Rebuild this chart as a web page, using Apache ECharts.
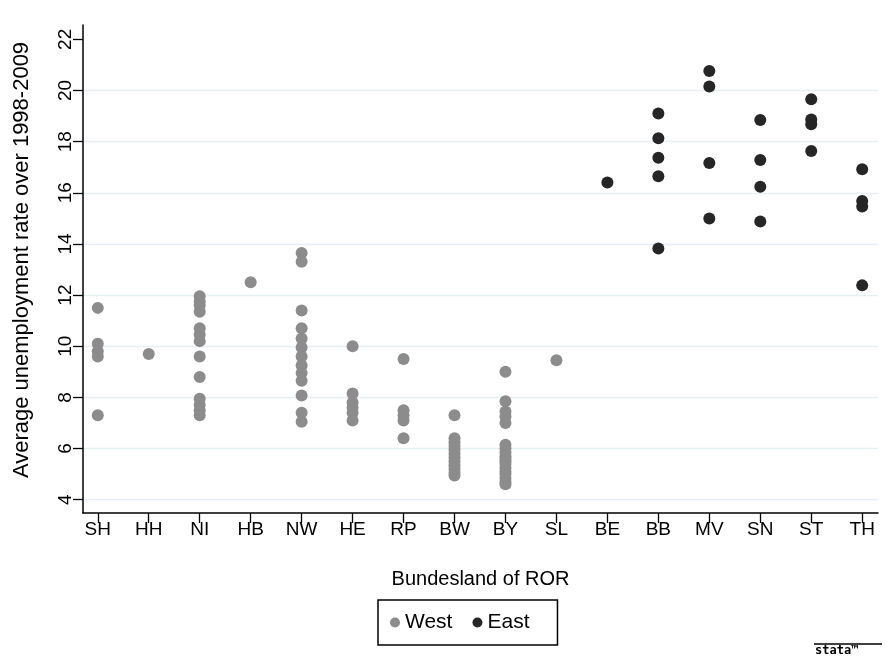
<!DOCTYPE html>
<html>
<head>
<meta charset="utf-8">
<script src="https://cdn.jsdelivr.net/npm/echarts@6/dist/echarts.min.js"></script>
<style>html,body{margin:0;padding:0;background:#fff}#c{width:890px;height:657px}</style>
</head>
<body>
<div id="c"></div>
<script>
const categories = ['SH','HH','NI','HB','NW','HE','RP','BW','BY','SL','BE','BB','MV','SN','ST','TH'];
const yTicks = [4,6,8,10,12,14,16,18,20,22];
// West states
const SH = [11.5, 10.1, 9.8, 9.6, 7.3];
const HH = [9.7];
const NI = [11.95, 11.75, 11.6, 11.35, 10.7, 10.45, 10.2, 9.6, 8.8, 7.95, 7.7, 7.5, 7.3];
const HB = [12.5];
const NW = [13.65, 13.3, 11.4, 10.7, 10.3, 9.95, 9.6, 9.25, 8.95, 8.65, 8.07, 7.4, 7.05];
const HE = [10.0, 8.15, 7.8, 7.6, 7.4, 7.1];
const RP = [9.5, 7.5, 7.3, 7.1, 6.4];
const BW = [7.3, 6.4, 6.25, 6.1, 5.95, 5.8, 5.65, 5.5, 5.35, 5.2, 5.05, 4.95];
const BY = [9.0, 7.85, 7.45, 7.25, 7.0, 6.15, 6.0, 5.85, 5.7, 5.6, 5.5, 5.4, 5.25, 5.1, 5.0, 4.85, 4.7, 4.6];
const SL = [9.45];
// East states
const BE = [16.4];
const BB = [19.1, 18.13, 17.37, 16.65, 13.82];
const MV = [20.76, 20.16, 17.16, 14.99];
const SN = [18.85, 17.28, 16.24, 14.88];
const ST = [19.66, 18.87, 18.68, 17.63];
const TH = [16.92, 15.68, 15.46, 12.38];

const westStates = {SH, HH, NI, HB, NW, HE, RP, BW, BY, SL};
const eastStates = {BE, BB, MV, SN, ST, TH};

function toPoints(group) {
  const pts = [];
  Object.keys(group).forEach(k => {
    const xi = categories.indexOf(k) + 1;
    group[k].forEach(v => pts.push([xi, v]));
  });
  return pts;
}

const chart = echarts.init(document.getElementById('c'), null, {renderer: 'canvas'});
const font = 'Liberation Sans, Arial, Helvetica, sans-serif';
const xTicks = categories.map((c, i) => i + 1);
const grid = '#e7eff2';

chart.setOption({
  animation: false,
  backgroundColor: '#ffffff',
  textStyle: {fontFamily: font},
  grid: {left: 83, right: 12, top: 25, bottom: 144, show: false},
  xAxis: {
    type: 'value', min: 0.71, max: 16.31,
    name: 'Bundesland of ROR', nameLocation: 'middle', nameGap: 56,
    nameTextStyle: {fontSize: 20, color: '#000', fontFamily: font},
    axisLine: {show: true, lineStyle: {color: '#000', width: 1.5}},
    axisTick: {show: true, length: 10, customValues: xTicks, lineStyle: {color: '#000', width: 1.3}},
    axisLabel: {customValues: xTicks, margin: 7, fontSize: 19, color: '#000', fontFamily: font,
      formatter: v => categories[Math.round(v) - 1] || ''},
    splitLine: {show: false}
  },
  yAxis: {
    type: 'value', min: 3.48, max: 22.56,
    name: 'Average unemployment rate over 1998-2009', nameLocation: 'middle', nameGap: 50,
    nameTextStyle: {fontSize: 22, color: '#000', fontFamily: font, padding: [0, 0, 0, 18]},
    axisLine: {show: true, lineStyle: {color: '#000', width: 1.5}},
    axisTick: {show: true, length: 10, customValues: yTicks, lineStyle: {color: '#000', width: 1.3}},
    axisLabel: {customValues: yTicks, rotate: 90, margin: 8, fontSize: 19, color: '#000', fontFamily: font},
    splitLine: {show: true, lineStyle: {color: [grid,grid,grid,grid,grid,grid,grid,grid,grid,'rgba(0,0,0,0)'], width: 1.3}}
  },
  legend: {
    left: 378, top: 600,
    data: ['West', 'East'],
    icon: 'circle', itemWidth: 10, itemHeight: 10, itemGap: 20,
    padding: [12, 28, 12, 12],
    borderColor: '#000', borderWidth: 1.5,
    textStyle: {fontSize: 21, color: '#000', fontFamily: font}
  },
  series: [
    {name: 'West', type: 'scatter', symbol: 'circle', symbolSize: 12,
     itemStyle: {color: '#8c8c8c', opacity: 1}, data: toPoints(westStates)},
    {name: 'East', type: 'scatter', symbol: 'circle', symbolSize: 12,
     itemStyle: {color: '#262626', opacity: 1}, data: toPoints(eastStates)}
  ],
  graphic: [
    {type: 'line', shape: {x1: 814, y1: 644, x2: 882, y2: 644}, style: {stroke: '#000', lineWidth: 1.5}},
    {type: 'text', left: 815, top: 645, style: {text: 'stata™', font: 'bold 12px DejaVu Sans Mono', fill: '#000'}}
  ]
});
</script>
</body>
</html>
